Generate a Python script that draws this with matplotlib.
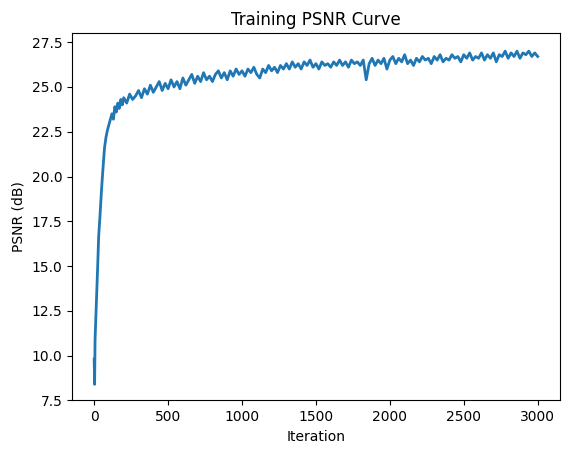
import matplotlib
matplotlib.use("Agg")
import matplotlib.pyplot as plt

iters_early = [0, 3, 6, 10, 15, 20, 25, 30, 40, 50, 60, 70, 80, 90, 100, 110, 120, 130, 140, 150, 160, 170, 180, 190]
psnr_early = [9.8, 8.4, 10.9, 11.8, 13.0, 14.2, 15.3, 16.6, 17.9, 19.3, 20.5, 21.6, 22.2, 22.6, 22.9, 23.2, 23.5, 23.2, 23.9, 23.6, 24.1, 23.8, 24.3, 24.0]

iters_late = list(range(200, 3001, 20))
psnr_late = [
 24.4, 24.1, 24.6, 24.3, 24.5, 24.8, 24.4, 24.9, 24.6, 25.1,
 24.7, 25.0, 25.3, 24.8, 25.2, 24.9, 25.4, 25.0, 25.3, 24.9,
 25.5, 25.1, 25.4, 25.7, 25.2, 25.6, 25.3, 25.8, 25.4, 25.6,
 25.3, 25.7, 25.9, 25.5, 25.8, 25.4, 25.9, 25.6, 26.0, 25.7,
 25.9, 25.6, 26.0, 25.8, 26.1, 25.7, 25.5, 26.0, 25.8, 26.2,
 25.9, 26.1, 25.8, 26.2, 26.0, 26.3, 26.0, 26.4, 26.1, 26.3,
 26.0, 26.4, 26.2, 26.5, 26.1, 26.3, 26.0, 26.4, 26.2, 26.3,
 26.1, 26.4, 26.2, 26.5, 26.2, 26.4, 26.1, 26.5, 26.3, 26.4,
 26.2, 26.5, 25.4, 26.3, 26.6, 26.2, 26.5, 26.3, 26.6, 26.0,
 26.5, 26.7, 26.3, 26.6, 26.4, 26.8, 26.3, 26.5, 26.2, 26.6,
 26.4, 26.7, 26.5, 26.6, 26.3, 26.7, 26.5, 26.8, 26.4, 26.6,
 26.5, 26.8, 26.6, 26.7, 26.4, 26.8, 26.6, 26.9, 26.5, 26.7,
 26.6, 26.9, 26.5, 26.8, 26.6, 26.9, 26.4, 26.8, 26.7, 27.0,
 26.6, 26.9, 26.7, 27.0, 26.6, 26.9, 26.8, 27.0, 26.7, 26.9,
 26.7,
]

iterations = iters_early + iters_late
psnr = psnr_early + psnr_late

fig, ax = plt.subplots(figsize=(5.76, 4.55), dpi=100)
fig.subplots_adjust(left=0.125, right=0.972, top=0.927, bottom=0.12)
ax.plot(iterations, psnr, color="#1f77b4", linewidth=2.0)
ax.set_title("Training PSNR Curve")
ax.set_xlabel("Iteration")
ax.set_ylabel("PSNR (dB)")
ax.set_ylim(7.5, 28.0)
ax.set_yticks([7.5, 10.0, 12.5, 15.0, 17.5, 20.0, 22.5, 25.0, 27.5])
fig.savefig("out.png")
